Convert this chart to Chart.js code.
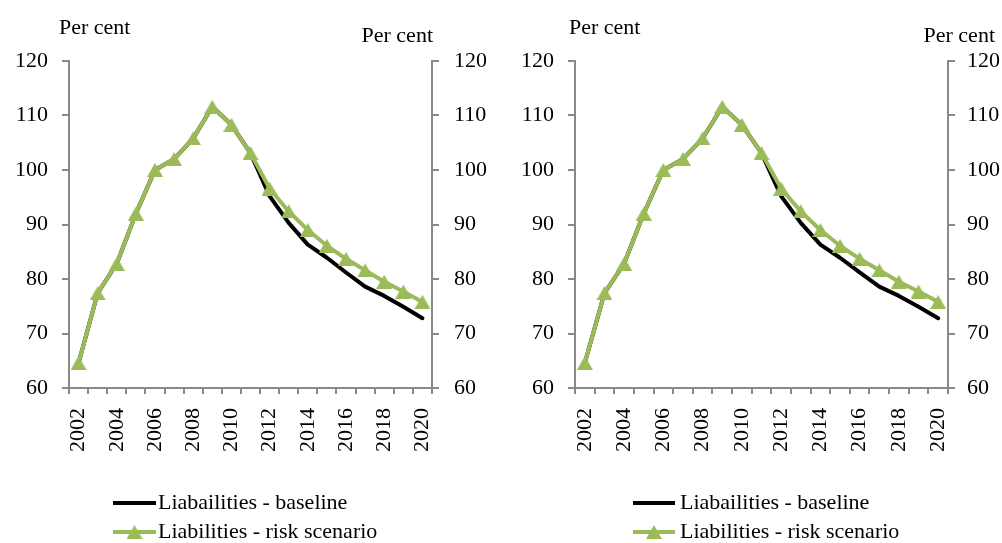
<!DOCTYPE html>
<html>
<head>
<meta charset="utf-8">
<title>Liabilities</title>
<script src="https://cdn.jsdelivr.net/npm/chart.js@4.4.1/dist/chart.umd.min.js"></script>
<style>
    html, body { margin: 0; padding: 0; background: #fff; }
    #wrap { position: relative; width: 1002px; height: 543px; overflow: hidden; }
    .panel { position: absolute; top: 0; width: 501px; height: 543px; }
</style>
</head>
<body>
<div id="wrap">
    <div class="panel" style="left:0"><canvas id="chartLeft"></canvas></div>
    <div class="panel" style="left:501px"><canvas id="chartRight"></canvas></div>
</div>
<script>
const years = ['2002', '2003', '2004', '2005', '2006', '2007', '2008', '2009', '2010', '2011',
               '2012', '2013', '2014', '2015', '2016', '2017', '2018', '2019', '2020'];

const baseline = [64.6, 77.4, 82.8, 92.0, 100.0, 102.0, 105.8, 111.6, 108.3, 103.1,
                  95.2, 90.3, 86.3, 83.9, 81.2, 78.6, 76.9, 74.9, 72.8];

const riskScenario = [64.6, 77.4, 82.8, 92.0, 100.0, 102.0, 105.8, 111.6, 108.3, 103.1,
                      96.6, 92.4, 89.0, 86.1, 83.7, 81.6, 79.5, 77.7, 75.8];

const yTicks = [60, 70, 80, 90, 100, 110, 120];

const seriesNames = ['Liabailities - baseline', 'Liabilities - risk scenario'];
const axisTitle = 'Per cent';

const GREEN = '#9BBB59';
const AXIS = '#898989';
const FONT = { family: "'Liberation Serif', 'Times New Roman', serif", size: 22 };

// triangle marker, centred on its bounding box like the spreadsheet markers
function makeTriangle() {
    const c = document.createElement('canvas');
    c.width = 16;
    c.height = 14;
    const g = c.getContext('2d');
    g.fillStyle = GREEN;
    g.beginPath();
    g.moveTo(8, 0);
    g.lineTo(16, 14);
    g.lineTo(0, 14);
    g.closePath();
    g.fill();
    return c;
}
const triangle = makeTriangle();

// "Per cent" titles over both axes plus the legend under the x axis
const decorations = {
    id: 'decorations',
    afterDraw(chart, args, opts) {
        const ctx = chart.ctx;
        ctx.save();
        ctx.font = FONT.size + 'px ' + FONT.family;
        ctx.fillStyle = '#000';
        ctx.textBaseline = 'alphabetic';
        ctx.textAlign = 'left';
        ctx.fillText(axisTitle, opts.leftTitleX, 34);
        ctx.textAlign = 'right';
        ctx.fillText(axisTitle, opts.rightTitleX, 42);

        const rows = [503, 532];
        ctx.lineWidth = 4;
        ctx.lineCap = 'butt';

        ctx.strokeStyle = '#000';
        ctx.beginPath();
        ctx.moveTo(opts.legendX1, rows[0]);
        ctx.lineTo(opts.legendX2, rows[0]);
        ctx.stroke();

        ctx.strokeStyle = GREEN;
        ctx.beginPath();
        ctx.moveTo(opts.legendX1, rows[1]);
        ctx.lineTo(opts.legendX2, rows[1]);
        ctx.stroke();
        const mid = (opts.legendX1 + opts.legendX2) / 2;
        ctx.drawImage(triangle, mid - 8, rows[1] - 7);

        ctx.textAlign = 'left';
        ctx.textBaseline = 'middle';
        ctx.fillText(seriesNames[0], opts.legendText, rows[0]);
        ctx.fillText(seriesNames[1], opts.legendText, rows[1]);
        ctx.restore();
    }
};

function yAxis(position, padding, width) {
    return {
        position: position,
        min: yTicks[0],
        max: yTicks[yTicks.length - 1],
        ticks: { stepSize: 10, padding: padding, font: FONT, color: '#000' },
        grid: { drawOnChartArea: false, tickLength: 7, color: AXIS, lineWidth: 2 },
        border: { color: AXIS, width: 2 },
        afterFit(scale) { scale.width = width; }
    };
}

function buildChart(id, p) {
    return new Chart(document.getElementById(id), {
        type: 'line',
        data: {
            labels: years,
            datasets: [{
                label: seriesNames[0],
                data: baseline,
                borderColor: '#000',
                borderWidth: 4,
                pointRadius: 0,
                tension: 0,
                borderCapStyle: 'round',
                borderJoinStyle: 'round',
                order: 1
            }, {
                label: seriesNames[1],
                data: riskScenario,
                borderColor: GREEN,
                backgroundColor: GREEN,
                borderWidth: 4,
                pointStyle: triangle,
                pointRadius: 8,
                tension: 0,
                borderJoinStyle: 'round',
                order: 0
            }]
        },
        options: {
            responsive: true,
            maintainAspectRatio: false,
            animation: false,
            layout: { padding: { top: 61, left: 0, right: 0, bottom: 0 } },
            plugins: {
                legend: { display: false },
                tooltip: { enabled: false },
                decorations: p
            },
            scales: {
                x: {
                    offset: true,
                    grid: { offset: true, drawOnChartArea: false, tickLength: 6, color: AXIS, lineWidth: 2 },
                    border: { color: AXIS, width: 2 },
                    ticks: {
                        autoSkip: false,
                        minRotation: 90,
                        maxRotation: 90,
                        padding: 14,
                        font: FONT,
                        color: '#000',
                        callback: function (value, index) {
                            return index % 2 === 0 ? this.getLabelForValue(value) : '';
                        }
                    },
                    afterFit(scale) { scale.height = 155; }
                },
                y: yAxis('left', 14, p.leftWidth),
                y2: yAxis('right', p.rightPad, p.rightWidth)
            }
        },
        plugins: [decorations]
    });
}

buildChart('chartLeft', {
    leftWidth: 69, rightWidth: 69, rightPad: 15,
    leftTitleX: 59, rightTitleX: 433,
    legendX1: 113, legendX2: 156, legendText: 158
});

buildChart('chartRight', {
    leftWidth: 74, rightWidth: 54, rightPad: 12,
    leftTitleX: 68, rightTitleX: 494,
    legendX1: 132, legendX2: 174, legendText: 179
});
</script>
</body>
</html>
